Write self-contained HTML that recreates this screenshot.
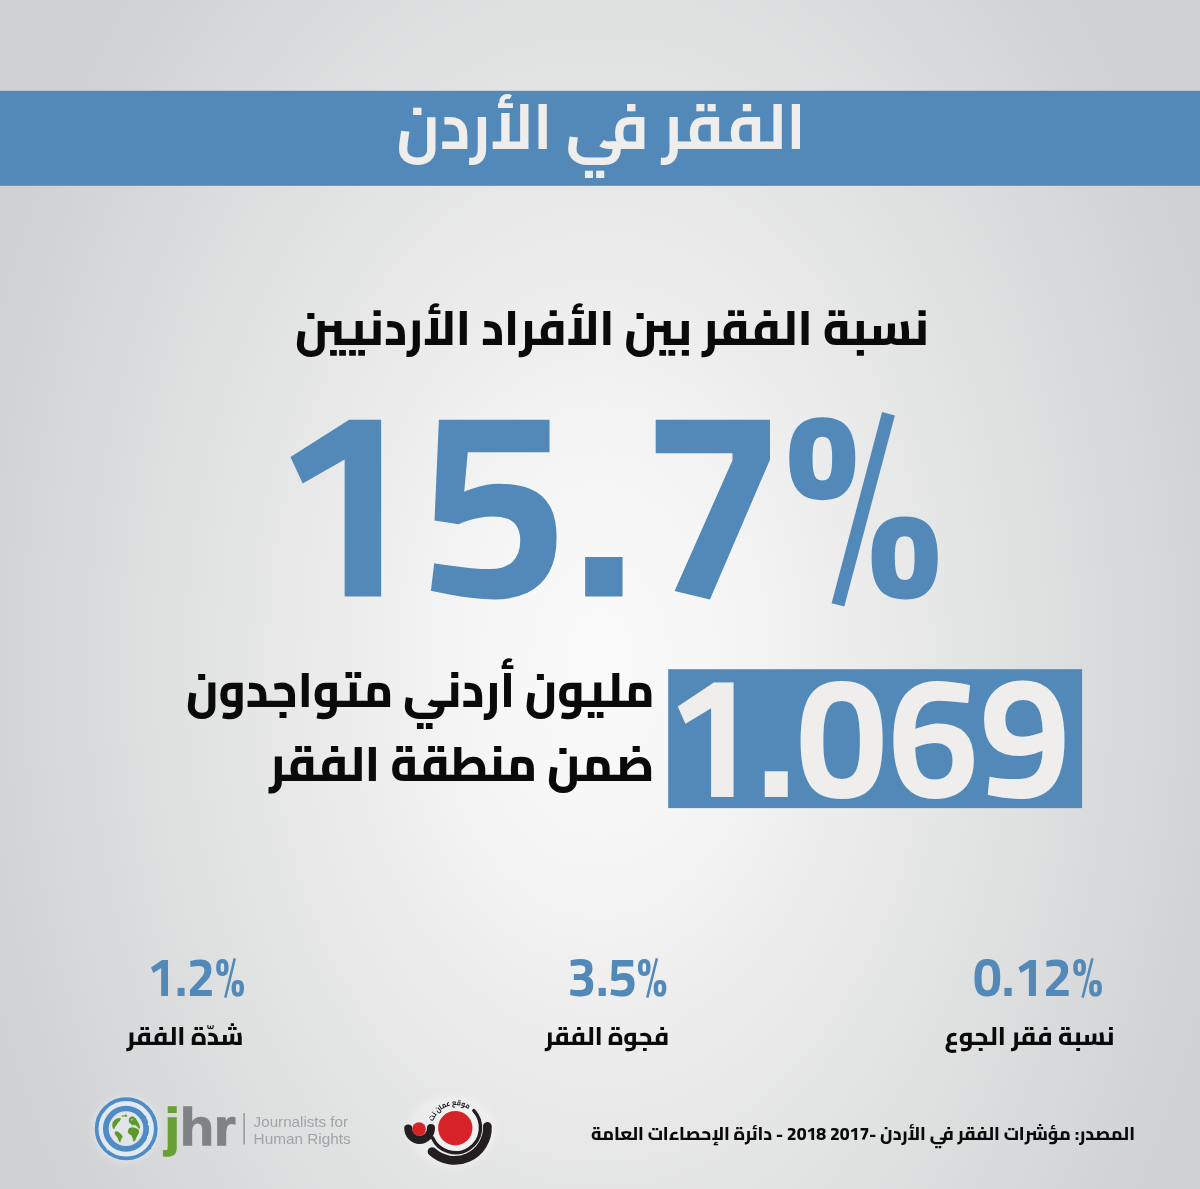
<!DOCTYPE html>
<html lang="ar">
<head>
<meta charset="utf-8">
<title>الفقر في الأردن</title>
<style>
html,body{margin:0;padding:0;width:1200px;height:1189px;overflow:hidden;background:#e2e3e4;}
svg{display:block;position:absolute;left:0;top:0;will-change:transform;}
text{font-family:"Cairo","Liberation Sans","DejaVu Sans",sans-serif;font-weight:700;}
.ar{direction:rtl;unicode-bidi:embed;font-weight:800;font-size-adjust:cap-height 0.7;}
.w9{font-weight:820;}
.w7{font-weight:760;}
.dark{fill:#0a0a0a;}
.blue{fill:#5389b8;font-size-adjust:0.5;}
.light{fill:#efeeed;}
</style>
</head>
<body>
<svg width="1200" height="1189" viewBox="0 0 1200 1189">
  <defs>
    <radialGradient id="bg" gradientUnits="userSpaceOnUse" cx="600" cy="660" r="650" gradientTransform="translate(600 660) scale(1 1.506) translate(-600 -660)">
      <stop offset="0" stop-color="#fafafa"/>
      <stop offset="0.1" stop-color="#f8f8f8"/>
      <stop offset="0.2" stop-color="#f5f5f5"/>
      <stop offset="0.4" stop-color="#ececec"/>
      <stop offset="0.6" stop-color="#e2e3e3"/>
      <stop offset="0.8" stop-color="#d9dadb"/>
      <stop offset="1" stop-color="#d0d1d3"/>
    </radialGradient>
    <filter id="soft" x="-30%" y="-30%" width="160%" height="160%"><feGaussianBlur stdDeviation="3"/></filter>
    <filter id="wob" x="-10%" y="-10%" width="120%" height="120%"><feTurbulence type="fractalNoise" baseFrequency="0.09" numOctaves="2" seed="4" result="n"/><feDisplacementMap in="SourceGraphic" in2="n" scale="1.6" xChannelSelector="R" yChannelSelector="G"/></filter>
  </defs>
  <rect x="0" y="0" width="1200" height="1189" fill="url(#bg)"/>

  <!-- banner -->
  <rect x="0" y="90.8" width="1200" height="95" fill="#5389b8"/>
  <text class="ar light" style="font-weight:750" x="601" y="148.8" font-size="64" text-anchor="middle" textLength="409" lengthAdjust="spacingAndGlyphs">الفقر في الأردن</text>

  <!-- subtitle -->
  <text class="ar dark" style="font-weight:760" x="612" y="345.2" font-size="48" text-anchor="middle" textLength="634" lengthAdjust="spacingAndGlyphs">نسبة الفقر بين الأفراد الأردنيين</text>

  <!-- big number -->
  <text class="blue" y="596.6" font-size="268" direction="ltr"><tspan x="268.75" textLength="149" lengthAdjust="spacingAndGlyphs">1</tspan><tspan x="418.75" textLength="149" lengthAdjust="spacingAndGlyphs">5</tspan><tspan x="571.3" textLength="64.8" lengthAdjust="spacingAndGlyphs">.</tspan><tspan x="637.9" textLength="149" lengthAdjust="spacingAndGlyphs">7</tspan><tspan x="782.95" textLength="160.8" lengthAdjust="spacingAndGlyphs">%</tspan></text>

  <!-- box -->
  <rect x="668.2" y="669.2" width="413.9" height="138.9" fill="#5389b8"/>
  <text class="light" style="font-size-adjust:0.5" x="867.6" y="796.8" font-size="173.5" text-anchor="middle" textLength="406" lengthAdjust="spacingAndGlyphs" direction="ltr">1.069</text>

  <text class="ar dark w9" x="420.2" y="707.3" font-size="48.5" text-anchor="middle" textLength="468.5" lengthAdjust="spacingAndGlyphs">مليون أردني متواجدون</text>
  <text class="ar dark w9" x="461.7" y="780.7" font-size="48.5" text-anchor="middle" textLength="385.3" lengthAdjust="spacingAndGlyphs">ضمن منطقة الفقر</text>

  <!-- stats -->
  <text class="blue" x="1038" y="995.6" font-size="54" text-anchor="middle" textLength="130" lengthAdjust="spacingAndGlyphs" direction="ltr">0.12%</text>
  <text class="blue" x="617.5" y="995.6" font-size="54" text-anchor="middle" textLength="100" lengthAdjust="spacingAndGlyphs" direction="ltr">3.5%</text>
  <text class="blue" x="196" y="995.6" font-size="54"  text-anchor="middle" textLength="98" lengthAdjust="spacingAndGlyphs" direction="ltr">1.2%</text>

  <text class="ar dark" x="1029.5" y="1044.7" font-size="25" text-anchor="middle" textLength="170" lengthAdjust="spacingAndGlyphs">نسبة فقر الجوع</text>
  <text class="ar dark" x="607" y="1044.7" font-size="25" text-anchor="middle" textLength="124" lengthAdjust="spacingAndGlyphs">فجوة الفقر</text>
  <text class="ar dark" x="185" y="1044.7" font-size="25" text-anchor="middle" textLength="117" lengthAdjust="spacingAndGlyphs">شدّة الفقر</text>

  <!-- JHR logo -->
  <g id="jhr">
    <circle cx="126.2" cy="1128.8" r="33.5" fill="#e6edf5" opacity="0.55" filter="url(#soft)"/>
    <circle cx="126.2" cy="1128.8" r="28" fill="#e3e9f0"/>
    <g filter="url(#wob)">
      <circle cx="126.2" cy="1128.8" r="29.6" fill="none" stroke="#4f8bc4" stroke-width="3.7"/>
      <circle cx="126" cy="1128.7" r="20.2" fill="#e1e4e9" stroke="#4f8bc4" stroke-width="5.7"/>
    </g>
    <g fill="#5e992e" transform="translate(104 1107) scale(0.03833)">
      <path d="M215 480 L225 400 L280 335 L350 295 L430 290 L440 320 L400 380 L360 420 L330 470 L290 520 L265 585 L240 560 L220 520 Z"/>
      <ellipse cx="490" cy="235" rx="32" ry="20"/>
      <ellipse cx="566" cy="226" rx="36" ry="32"/>
      <path d="M275 680 L300 640 L350 635 L410 680 L470 740 L490 780 L460 820 L440 870 L430 920 L400 915 L375 860 L350 790 L300 740 Z"/>
      <path d="M650 300 L700 250 L760 250 L820 290 L860 350 L900 420 L930 480 L940 560 L900 560 L860 500 L800 470 L740 480 L700 440 L650 400 Z"/>
      <path d="M630 600 L660 545 L740 530 L830 545 L900 590 L920 650 L890 720 L850 790 L820 860 L790 900 L760 890 L750 820 L720 750 L650 700 L620 650 Z"/>
      <ellipse cx="770" cy="490" rx="60" ry="26" fill="#bfe3a6"/>
      <ellipse cx="730" cy="330" rx="30" ry="22" fill="#9fcf7c"/>
    </g>
    <text x="164.6" y="1144.9" font-size="52" direction="ltr" style='font-family:"Liberation Sans","DejaVu Sans",sans-serif;font-weight:700' textLength="71" lengthAdjust="spacingAndGlyphs"><tspan fill="#6a9f35" stroke="#6a9f35" stroke-width="1.3">j</tspan><tspan fill="#808285" stroke="#808285" stroke-width="1.3">hr</tspan></text>
    <rect x="243.2" y="1113" width="1.8" height="31.5" fill="#a2a3a6"/>
    <text x="253.6" y="1126.6" font-size="14.6" direction="ltr" fill="#a2a3a6" style='font-family:"Liberation Sans","DejaVu Sans",sans-serif;font-weight:400' textLength="94.5" lengthAdjust="spacingAndGlyphs">Journalists for</text>
    <text x="253.6" y="1143.8" font-size="14.6" direction="ltr" fill="#a2a3a6" style='font-family:"Liberation Sans","DejaVu Sans",sans-serif;font-weight:400' textLength="97" lengthAdjust="spacingAndGlyphs">Human Rights</text>
  </g>

  <!-- AmmanNet logo -->
  <g id="ammannet">
    <ellipse cx="452" cy="1131" rx="44" ry="36" fill="#ffffff" opacity="0.28" filter="url(#soft)"/>
    <circle cx="455.4" cy="1127.8" r="25" fill="#f1f1f1" opacity="0.8"/>
    <path d="M487.38 1126.35 A32.9 32.9 0 0 1 432.06 1151.56" fill="none" stroke="#231f20" stroke-width="8.8" stroke-linecap="round"/>
    <path d="M473.85 1110.58 A25.1 25.1 0 1 1 432.47 1137.81" fill="none" stroke="#231f20" stroke-width="3.4" stroke-linecap="round"/>
    <path d="M404.2 1128 A15.4 16 0 0 0 435 1128 A3.6 3.6 0 0 0 427 1128 A7.4 7.8 0 0 1 412.2 1128 A4 3.6 0 0 0 404.2 1128 Z" fill="#231f20"/>
    <circle cx="455.3" cy="1128.1" r="17.2" fill="#d72328"/>
    <circle cx="419" cy="1129.1" r="6.9" fill="#d72328"/>
    <path id="amarc" d="M433.3 1121.4 A23 23 0 0 1 469.14 1109.73" fill="none"/>
    <text font-size="7.6" fill="#231f20" direction="ltr" style="font-weight:800"><textPath href="#amarc" startOffset="0" textLength="43" lengthAdjust="spacingAndGlyphs">موقع عمان نت</textPath></text>
  </g>

  <!-- source -->
  <text class="ar dark w7" x="863" y="1140" font-size="18" text-anchor="middle" textLength="544" lengthAdjust="spacingAndGlyphs">المصدر: مؤشرات الفقر في الأردن -2017 2018 - دائرة الإحصاءات العامة</text>
</svg>
</body>
</html>
